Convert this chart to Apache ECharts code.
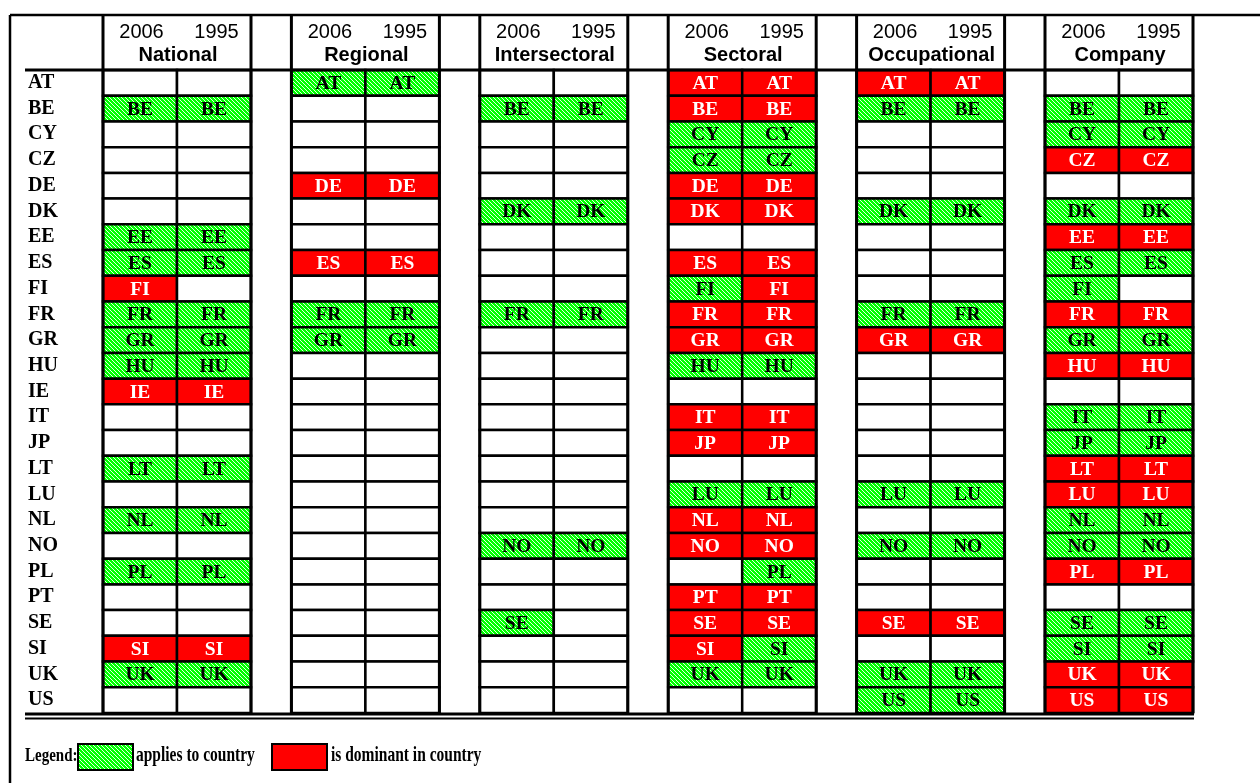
<!DOCTYPE html>
<html><head><meta charset="utf-8">
<script src="https://cdn.jsdelivr.net/npm/echarts@6/dist/echarts.min.js"></script>
<style>html,body{margin:0;padding:0;background:#fff}#c{width:1260px;height:783px}</style>
</head><body><div id="c"></div>
<script>
// ---- data ----
const countries = ['AT','BE','CY','CZ','DE','DK','EE','ES','FI','FR','GR','HU','IE','IT','JP','LT','LU','NL','NO','PL','PT','SE','SI','UK','US'];
const groups = ['National','Regional','Intersectoral','Sectoral','Occupational','Company'];
const years = ['2006','1995'];
// 0 = not present, 1 = applies to country, 2 = is dominant in country
const national2006      = [0,1,0,0,0,0,1,1,2,1,1,1,2,0,0,1,0,1,0,1,0,0,2,1,0];
const national1995      = [0,1,0,0,0,0,1,1,0,1,1,1,2,0,0,1,0,1,0,1,0,0,2,1,0];
const regional2006      = [1,0,0,0,2,0,0,2,0,1,1,0,0,0,0,0,0,0,0,0,0,0,0,0,0];
const regional1995      = [1,0,0,0,2,0,0,2,0,1,1,0,0,0,0,0,0,0,0,0,0,0,0,0,0];
const intersectoral2006 = [0,1,0,0,0,1,0,0,0,1,0,0,0,0,0,0,0,0,1,0,0,1,0,0,0];
const intersectoral1995 = [0,1,0,0,0,1,0,0,0,1,0,0,0,0,0,0,0,0,1,0,0,0,0,0,0];
const sectoral2006      = [2,2,1,1,2,2,0,2,1,2,2,1,0,2,2,0,1,2,2,0,2,2,2,1,0];
const sectoral1995      = [2,2,1,1,2,2,0,2,2,2,2,1,0,2,2,0,1,2,2,1,2,2,1,1,0];
const occupational2006  = [2,1,0,0,0,1,0,0,0,1,2,0,0,0,0,0,1,0,1,0,0,2,0,1,1];
const occupational1995  = [2,1,0,0,0,1,0,0,0,1,2,0,0,0,0,0,1,0,1,0,0,2,0,1,1];
const company2006       = [0,1,1,2,0,1,2,1,1,2,1,2,0,1,1,2,2,1,1,2,0,1,1,2,2];
const company1995       = [0,1,1,2,0,1,2,1,0,2,1,2,0,1,1,2,2,1,1,2,0,1,1,2,2];
const legendLabels = ['Legend:','applies to country','is dominant in country'];

// ---- layout ----
const CELL = 74, PITCH = 188.4;
const status = [[national2006,national1995],[regional2006,regional1995],[intersectoral2006,intersectoral1995],
                [sectoral2006,sectoral1995],[occupational2006,occupational1995],[company2006,company1995]];

function hatch(){
  const c = document.createElement('canvas'); c.width = 8; c.height = 8;
  const x = c.getContext('2d');
  x.fillStyle = '#00ff00'; x.fillRect(0,0,8,8);
  x.strokeStyle = '#ffffff'; x.lineWidth = 0.9;
  for (let k = -8; k <= 8; k += 4){ x.beginPath(); x.moveTo(k,0); x.lineTo(k+8,8); x.stroke(); }
  return c;
}
const pattern = {image: hatch(), repeat: 'repeat'};
const RED = '#ff0000';
const SERIF = '"Liberation Serif", serif';
const SANS = '"Liberation Sans", sans-serif';

const cellData = [];
groups.forEach((g, gi) => years.forEach((yr, ci) => countries.forEach((ct, ri) => {
  cellData.push([gi*PITCH + ci*CELL + CELL/2, ri, status[gi][ci][ri]]);
})));
const groupData = groups.map((g, gi) => [gi*PITCH, 0, gi]);

function legText(str, x, size){
  return {type: 'text', z: 100, x: x, y: 756, scaleY: 1.3,
    style: {text: str, x: 0, y: 0, align: 'left', verticalAlign: 'middle',
      fontFamily: SERIF, fontWeight: 'bold', fontSize: size, fill: '#000'}};
}

const chart = echarts.init(document.getElementById('c'), null, {renderer: 'canvas'});
chart.setOption({
  animation: false,
  backgroundColor: '#ffffff',
  grid: {left: 103, top: 70, width: 1090, height: 643},
  xAxis: {type: 'value', min: 0, max: 1090, show: false},
  yAxis: {type: 'category', data: countries, inverse: true,
    axisLine: {show: false}, axisTick: {show: false}, splitLine: {show: false},
    axisLabel: {interval: 0, align: 'left', margin: 75, color: '#000', fontFamily: SERIF, fontWeight: 'bold', fontSize: 20}},
  series: [
    {type: 'custom', data: cellData, encode: {x: 0, y: 1}, z: 2,
     renderItem(params, api){
       const v = api.value(2);
       const p = api.coord([api.value(0), api.value(1)]);
       const sz = api.size([CELL, 1]);
       const w = sz[0], h = sz[1];
       const fill = v === 1 ? pattern : (v === 2 ? RED : '#ffffff');
       const children = [{type: 'rect', shape: {x: p[0]-w/2, y: p[1]-h/2, width: w, height: h},
         style: {fill: fill, stroke: '#000', lineWidth: 2.5}}];
       if (v > 0) children.push({type: 'text', style: {text: countries[api.value(1)], x: p[0], y: p[1]+1,
         align: 'center', verticalAlign: 'middle', fontFamily: SERIF, fontWeight: 'bold', fontSize: 19.5, fill: v === 2 ? '#fff' : '#000'}});
       return {type: 'group', children};
     }},
    {type: 'custom', data: groupData, encode: {x: 0, y: 1}, z: 3,
     renderItem(params, api){
       const gi = api.value(2);
       const cs = params.coordSys;
       const xl = api.coord([api.value(0), 0])[0];
       const w = api.size([CELL, 1])[0];
       const xr = xl + 2*w;
       const top = cs.y - 55, bot = cs.y + cs.height;
       return {type: 'group', children: [
         {type: 'line', shape: {x1: xl, y1: top, x2: xl, y2: bot}, style: {stroke: '#000', lineWidth: 3}},
         {type: 'line', shape: {x1: xr, y1: top, x2: xr, y2: bot}, style: {stroke: '#000', lineWidth: 3}},
         {type: 'text', style: {text: years[0], x: xl + w/2 + 1.5, y: cs.y - 38, align: 'center', verticalAlign: 'middle', fontFamily: SANS, fontSize: 20, fill: '#000'}},
         {type: 'text', style: {text: years[1], x: xl + 1.5*w + 2.5, y: cs.y - 38, align: 'center', verticalAlign: 'middle', fontFamily: SANS, fontSize: 20, fill: '#000'}},
         {type: 'text', style: {text: groups[gi], x: xl + w + 1, y: cs.y - 15, align: 'center', verticalAlign: 'middle', fontFamily: SANS, fontWeight: 'bold', fontSize: 20, fill: '#000'}}
       ]};
     }}
  ],
  graphic: [
    {type: 'line', z: 100, shape: {x1: 10, y1: 15, x2: 1260, y2: 15}, style: {stroke: '#000', lineWidth: 2.5}},
    {type: 'line', z: 100, shape: {x1: 10, y1: 15, x2: 10, y2: 783}, style: {stroke: '#000', lineWidth: 2.5}},
    {type: 'line', z: 100, shape: {x1: 25, y1: 70, x2: 1194, y2: 70}, style: {stroke: '#000', lineWidth: 3}},
    {type: 'line', z: 100, shape: {x1: 25, y1: 714, x2: 1194, y2: 714}, style: {stroke: '#000', lineWidth: 3}},
    {type: 'line', z: 100, shape: {x1: 25, y1: 718.5, x2: 1194, y2: 718.5}, style: {stroke: '#000', lineWidth: 2}},
    legText(legendLabels[0], 25, 15),
    {type: 'rect', z: 100, shape: {x: 78, y: 744, width: 55, height: 26}, style: {fill: pattern, stroke: '#000', lineWidth: 2}},
    legText(legendLabels[1], 136, 15.5),
    {type: 'rect', z: 100, shape: {x: 272, y: 744, width: 55, height: 26}, style: {fill: RED, stroke: '#000', lineWidth: 2}},
    legText(legendLabels[2], 331, 15.5)
  ]
});
</script></body></html>
